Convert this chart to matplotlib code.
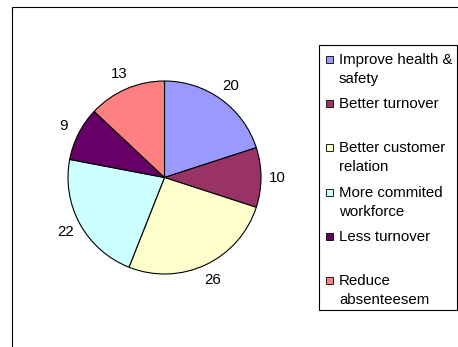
import matplotlib
matplotlib.use("Agg")
import matplotlib.pyplot as plt
from matplotlib.patches import Rectangle

# Data
categories = ["Improve health &\nsafety", "Better turnover", "Better customer\nrelation",
              "More commited\nworkforce", "Less turnover", "Reduce\nabsenteesem"]
values = [20, 10, 26, 22, 9, 13]
colors = ["#9999FF", "#993366", "#FFFFCC", "#CCFFFF", "#660066", "#FF8080"]

W, H = 458, 347
plt.rcParams["font.family"] = ["Liberation Sans", "DejaVu Sans"]
fs = 10.8

fig = plt.figure(figsize=(W / 100, H / 100), dpi=100)
ax = fig.add_axes([0, 0, 1, 1])

def py(y):
    # pixel row (from top) -> data y
    return H - y

# outer chart area border (runs past right/bottom edge)
ax.add_patch(Rectangle((12, py(600)), 700, 600 - 7, fill=False, ec="black", lw=0.8))

wedges, texts = ax.pie(values, colors=colors, labels=[str(v) for v in values],
                       startangle=90, counterclock=False, center=(164.5, py(177.5)), radius=96.5,
                       labeldistance=1.17,
                       wedgeprops=dict(edgecolor="black", linewidth=0.8),
                       textprops=dict(fontsize=fs))
for t in texts:
    t.set_ha("center")
    t.set_va("center")

# legend drawn by hand: each entry is two text lines tall
lx0, ly0, lx1, ly1 = 319, 45, 457, 310
ax.add_patch(Rectangle((lx0, py(ly1)), lx1 - lx0, ly1 - ly0, fill=False, ec="black", lw=0.8))
for i, (lab, c) in enumerate(zip(categories, colors)):
    base = 64 + i * 44.2
    ax.add_patch(Rectangle((326, py(base - 1) ), 7, 7, fc=c, ec="black", lw=0.6))
    for j, line in enumerate(lab.split("\n")):
        ax.text(339, py(base + j * 19), line, fontsize=fs, ha="left", va="baseline")

ax.set_xlim(0, W)
ax.set_ylim(0, H)
ax.axis("off")
fig.savefig("out.png", dpi=100)
